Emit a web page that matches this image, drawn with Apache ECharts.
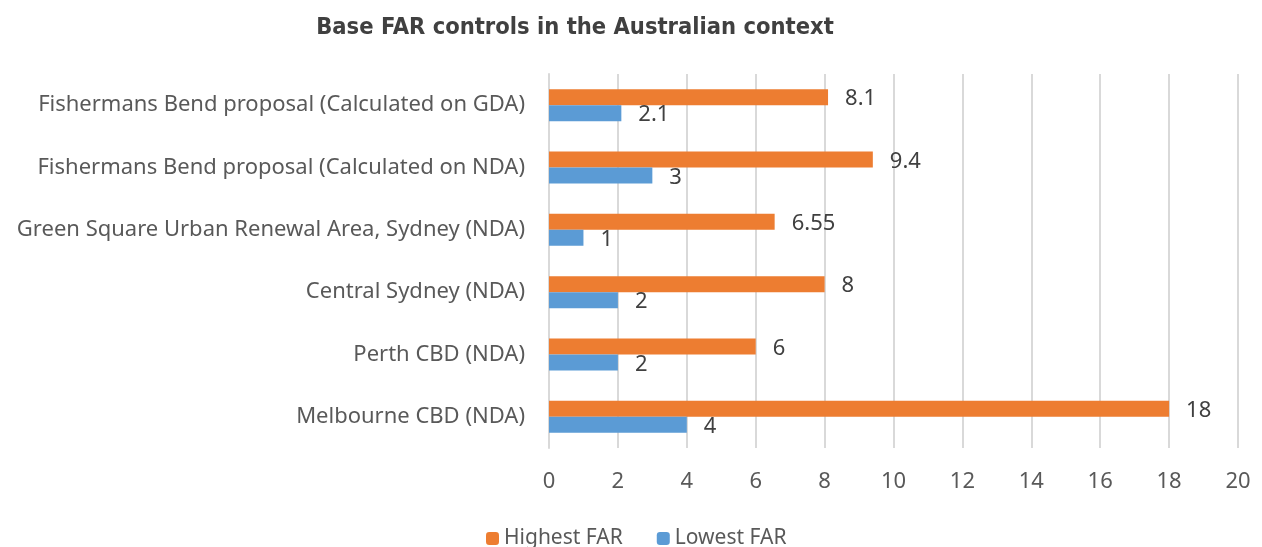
<!DOCTYPE html>
<html>
<head>
<meta charset="utf-8">
<script src="https://cdn.jsdelivr.net/npm/echarts@6/dist/echarts.min.js"></script>
<style>
  html, body { margin: 0; padding: 0; background: #fff; }
  #chart { width: 1262px; height: 547px; }
</style>
</head>
<body>
<div id="chart"></div>
<script>
// bottom to top, as the category axis counts
const categories = [
  'Melbourne CBD (NDA)',
  'Perth CBD (NDA)',
  'Central Sydney (NDA)',
  'Green Square Urban Renewal Area, Sydney (NDA)',
  'Fishermans Bend proposal (Calculated on NDA)',
  'Fishermans Bend proposal (Calculated on GDA)',
];
const highestFar = [18, 6, 8, 6.55, 9.4, 8.1];
const lowestFar = [4, 2, 2, 1, 3, 2.1];
const xTicks = [0, 20, 2];

const chart = echarts.init(document.getElementById('chart'));
const font = '"Noto Sans", sans-serif';
const labelStyle = {
  show: true,
  position: 'right',
  distance: 17,
  color: '#404040',
  fontSize: 22,
  fontFamily: font,
  offset: [0, 2],
};

chart.setOption({
  animation: false,
  title: {
    text: 'Base FAR controls in the Australian context',
    left: 570,
    textAlign: 'center',
    top: 11,
    textStyle: {
      color: '#404040',
      fontSize: 23.5,
      fontWeight: 'bold',
      fontFamily: '"DejaVu Sans Condensed", sans-serif',
    },
  },
  legend: {
    data: ['Highest FAR', 'Lowest FAR'],
    bottom: -7,
    left: 481,
    itemWidth: 13,
    itemHeight: 13,
    itemGap: 34,
    textStyle: { color: '#595959', fontSize: 21, fontFamily: font },
  },
  grid: { left: 549, right: 24, top: 74, bottom: 99 },
  xAxis: {
    type: 'value',
    min: xTicks[0],
    max: xTicks[1],
    interval: xTicks[2],
    axisLine: { show: false },
    axisTick: { show: false },
    axisLabel: { color: '#595959', fontSize: 22, fontFamily: font, margin: 23 },
    splitLine: { lineStyle: { color: '#d9d9d9', width: 2 } },
  },
  yAxis: {
    type: 'category',
    data: categories,
    axisLine: { lineStyle: { color: '#d9d9d9', width: 2 } },
    axisTick: { show: false },
    axisLabel: { color: '#595959', fontSize: 22, fontFamily: font, margin: 24 },
  },
  series: [
    {
      name: 'Highest FAR',
      type: 'bar',
      data: highestFar,
      barWidth: 16,
      barGap: '0%',
      itemStyle: { color: '#ed7d31' },
      label: labelStyle,
    },
    {
      name: 'Lowest FAR',
      type: 'bar',
      data: lowestFar,
      barWidth: 16,
      barGap: '0%',
      itemStyle: { color: '#5b9bd5' },
      label: labelStyle,
    },
  ],
});
</script>
</body>
</html>
